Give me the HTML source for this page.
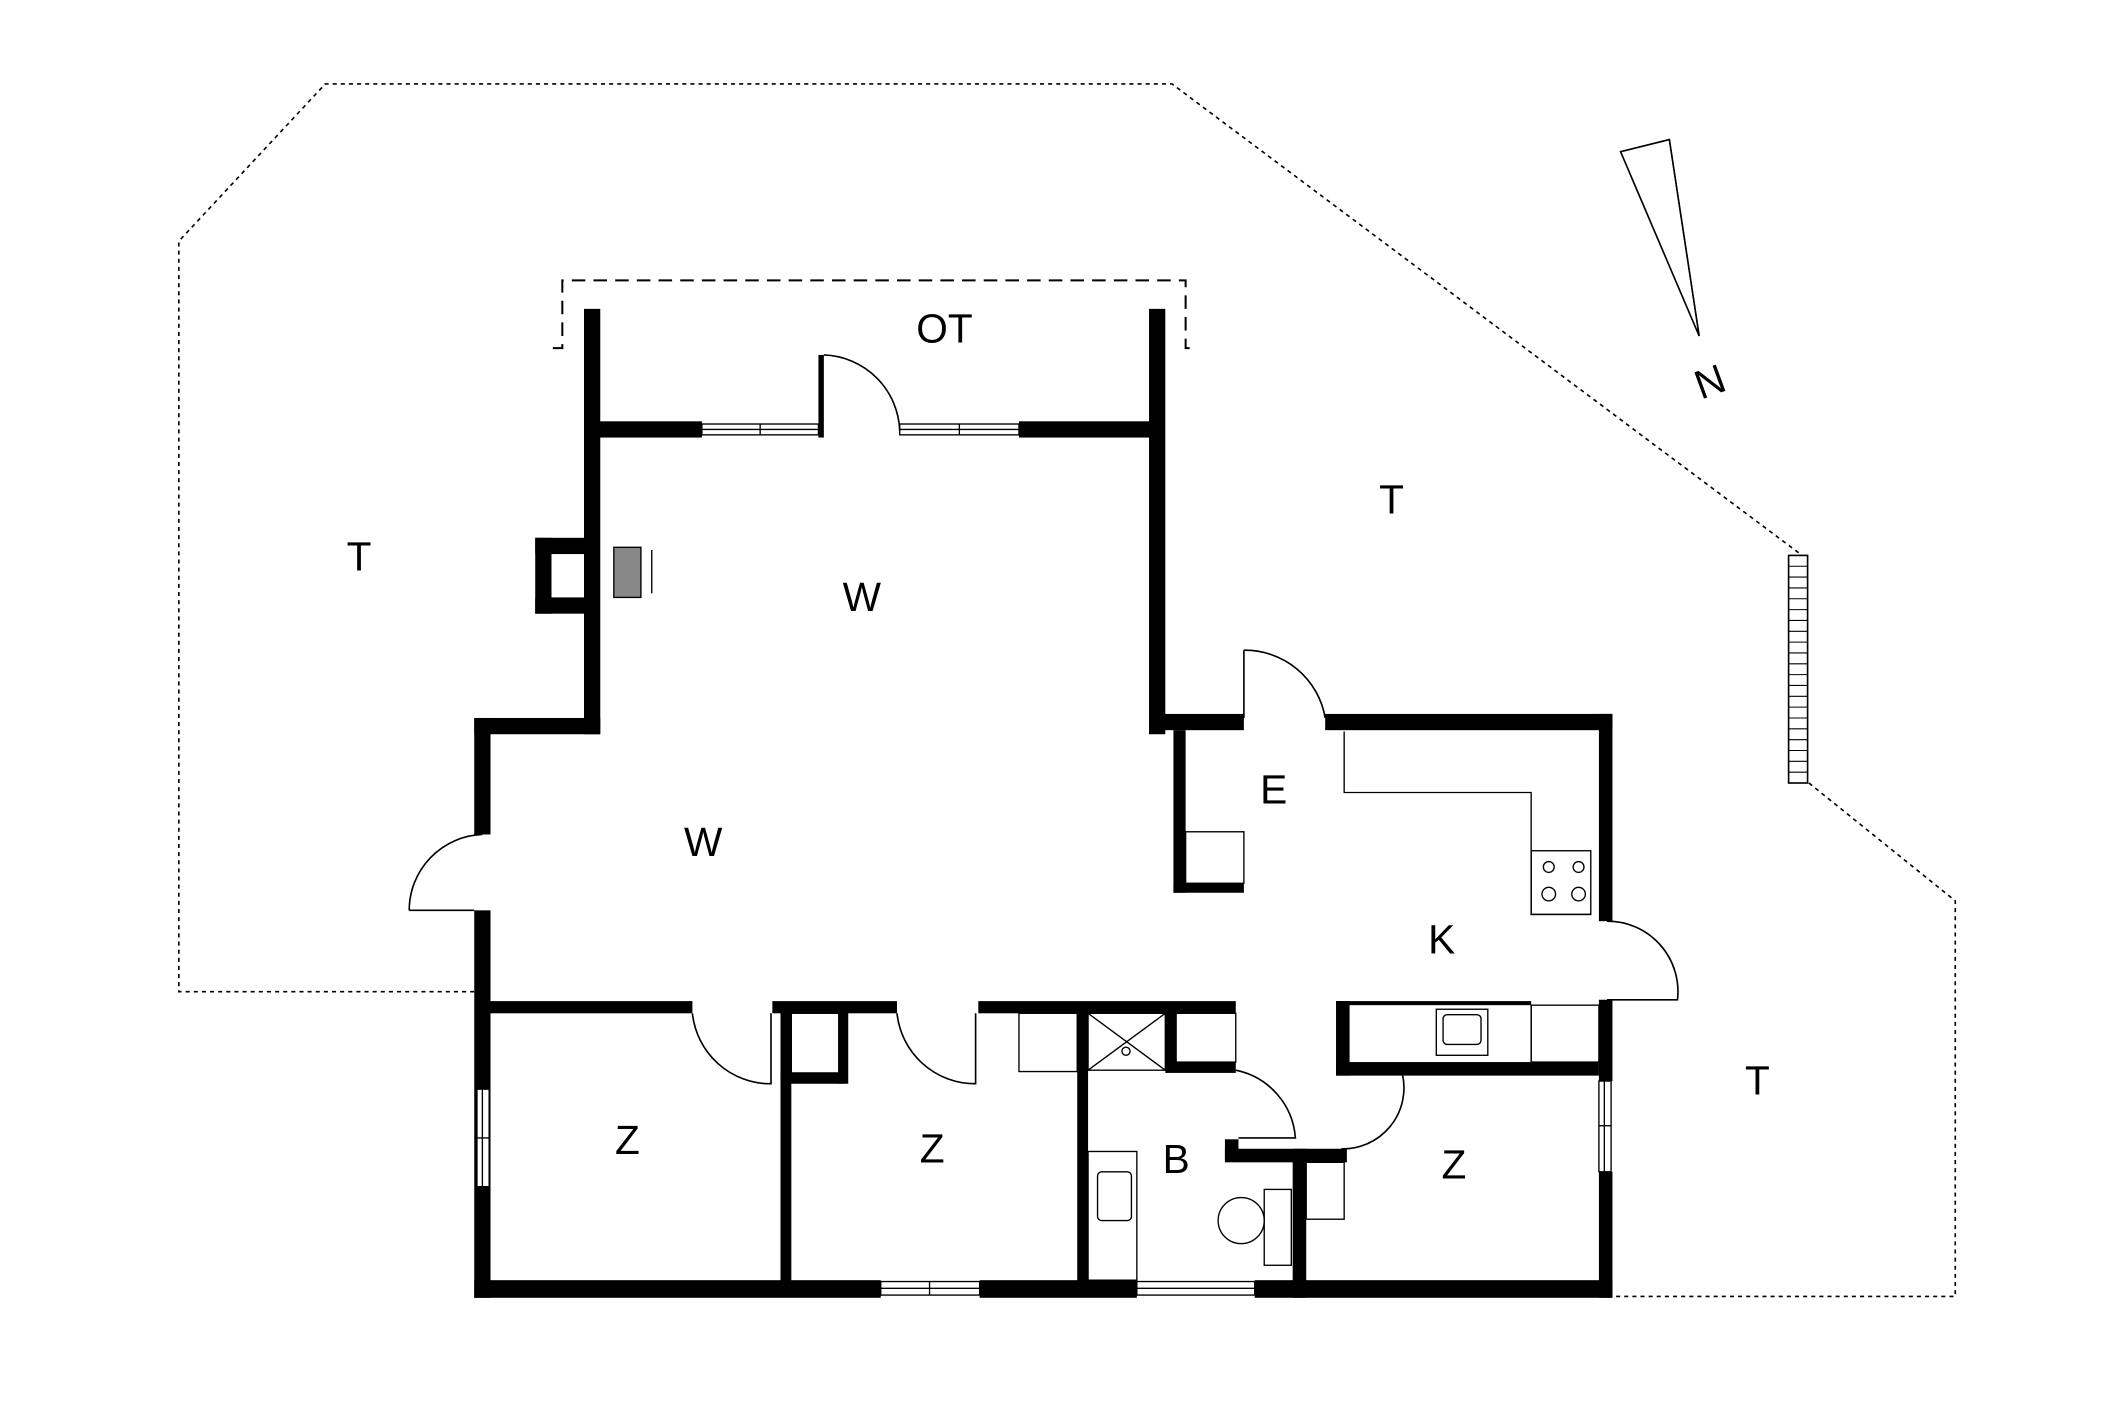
<!DOCTYPE html>
<html><head><meta charset="utf-8"><style>html,body{margin:0;padding:0;background:#fff}svg{display:block}</style></head><body>
<svg width="2126" height="1417" viewBox="0 0 1569 1046" preserveAspectRatio="none" xmlns="http://www.w3.org/2000/svg" font-family="Liberation Sans, sans-serif">
<rect width="1569" height="1046" fill="#fff"/>
<g fill="none" stroke="#000" stroke-width="1.2" stroke-dasharray="3,3">
<polyline points="350,732 132,732 132,178 240,62 865,62 1330,410"/>
<polyline points="1335,578 1443,665 1443,957 1190,957"/>
</g>
<polyline points="408,257 415,257 415,207 875,207 875,257 880,257" fill="none" stroke="#000" stroke-width="1.5" stroke-dasharray="10,6"/>
<rect x="1320" y="410" width="14" height="168" fill="none" stroke="#000" stroke-width="1.2"/>
<g stroke="#000" stroke-width="0.8">
<path d="M1320,418H1334M1320,426H1334M1320,434H1334M1320,442H1334M1320,450H1334M1320,458H1334M1320,466H1334M1320,474H1334M1320,482H1334M1320,490H1334M1320,498H1334M1320,506H1334M1320,514H1334M1320,522H1334M1320,530H1334M1320,538H1334M1320,546H1334M1320,554H1334M1320,562H1334M1320,570H1334"/>
</g>
<polygon points="1196,112 1232,103 1254,248" fill="none" stroke="#000" stroke-width="1.2"/>
<line x1="1232" y1="103" x2="1254" y2="248" stroke="#000" stroke-width="1"/>
<text x="1262" y="292" font-size="30" text-anchor="middle" transform="rotate(-20 1262 282)">N</text>
<g fill="#000">
<rect x="431" y="228" width="12" height="314"/>
<rect x="848" y="228" width="12" height="314"/>
<rect x="437" y="311" width="81" height="12"/>
<rect x="604" y="262" width="4" height="61"/>
<rect x="752" y="311" width="102" height="12"/>
<rect x="395" y="397" width="42" height="12"/>
<rect x="395" y="441" width="42" height="12"/>
<rect x="395" y="397" width="12" height="56"/>
<rect x="350" y="530" width="93" height="12"/>
<rect x="350" y="530" width="12" height="86"/>
<rect x="350" y="672" width="12" height="286"/>
<rect x="350" y="945" width="300" height="13"/>
<rect x="723" y="945" width="116" height="13"/>
<rect x="926" y="945" width="264" height="13"/>
<rect x="1180" y="527" width="10" height="153"/>
<rect x="1180" y="738" width="10" height="60"/>
<rect x="1180" y="865" width="10" height="93"/>
<rect x="978" y="527" width="212" height="12"/>
<rect x="854" y="527" width="64" height="12"/>
<rect x="866" y="539" width="9" height="120"/>
<rect x="866" y="652" width="52" height="7"/>
<rect x="356" y="739" width="155" height="9"/>
<rect x="570" y="739" width="92" height="9"/>
<rect x="722" y="739" width="190" height="9"/>
<rect x="576" y="743" width="8" height="210"/>
<rect x="576" y="792" width="46" height="8"/>
<rect x="619" y="743" width="7" height="57"/>
<rect x="795" y="743" width="8" height="210"/>
<rect x="860" y="743" width="8" height="48"/>
<rect x="860" y="784" width="52" height="8"/>
<rect x="904" y="841" width="10" height="15"/>
<rect x="904" y="848" width="90" height="10"/>
<rect x="954" y="848" width="10" height="110"/>
<rect x="986" y="739" width="10" height="55"/>
<rect x="986" y="784" width="194" height="10"/>
<rect x="986" y="739" width="144" height="3"/>
</g>
<g fill="#fff" stroke="#000" stroke-width="1">
<rect x="518" y="313" width="86" height="8"/><line x1="518" y1="317" x2="604" y2="317"/><line x1="561" y1="313" x2="561" y2="321"/>
<rect x="664" y="313" width="88" height="8"/><line x1="664" y1="317" x2="752" y2="317"/><line x1="708" y1="313" x2="708" y2="321"/>
<rect x="650" y="946" width="73" height="10"/><line x1="650" y1="951" x2="723" y2="951"/><line x1="686" y1="946" x2="686" y2="956"/>
<rect x="839" y="946" width="87" height="10"/><line x1="839" y1="951" x2="926" y2="951"/>
<rect x="352" y="804" width="9" height="72"/><line x1="356" y1="804" x2="356" y2="876"/><line x1="352" y1="840" x2="361" y2="840"/>
<rect x="1180" y="798" width="9" height="67"/><line x1="1184" y1="798" x2="1184" y2="865"/><line x1="1180" y1="831" x2="1189" y2="831"/>
</g>
<g fill="none" stroke="#000" stroke-width="1.2">
<path d="M608,262 A58,58 0 0 1 664,318"/>
<path d="M918,480 V530 M918,480 A60,60 0 0 1 978,530"/>
<path d="M302,672 H350 M302,672 A56,56 0 0 1 356,616"/>
<path d="M1186,680 A52,52 0 0 1 1238,738 H1186"/>
<path d="M511,748 A58,58 0 0 0 569,800 V748"/>
<path d="M662,748 A58,58 0 0 0 720,800 V748"/>
<path d="M912,790 A55,55 0 0 1 956,840 H914"/>
<path d="M990,848 A45,45 0 0 0 1035,793 H996"/>
</g>
<g fill="none" stroke="#000" stroke-width="1">
<rect x="453" y="404" width="20" height="37" fill="#888"/>
<line x1="481" y1="406" x2="481" y2="438"/>
<rect x="875" y="614" width="43" height="38"/>
<polyline points="992,540 992,585 1130,585 1130,675 1174,675"/>
<rect x="1130" y="628" width="44" height="47"/>
<circle cx="1143" cy="640" r="4"/><circle cx="1165" cy="640" r="4"/><circle cx="1143" cy="660" r="5"/><circle cx="1165" cy="660" r="5"/>
<rect x="1130" y="742" width="50" height="42"/><line x1="1130" y1="742" x2="1130" y2="784"/>
<rect x="1060" y="745" width="38" height="34"/><rect x="1065" y="749" width="28" height="22" rx="3"/>
<rect x="584" y="748" width="35" height="44"/>
<rect x="752" y="748" width="43" height="43"/>
<rect x="803" y="748" width="57" height="42"/><line x1="803" y1="748" x2="860" y2="790"/><line x1="860" y1="748" x2="803" y2="790"/><circle cx="831" cy="776" r="3"/>
<rect x="868" y="748" width="44" height="36"/>
<rect x="803" y="850" width="36" height="95"/><rect x="810" y="865" width="25" height="36" rx="3"/>
<rect x="964" y="858" width="28" height="42"/>
<rect x="933" y="878" width="20" height="56"/>
<ellipse cx="916" cy="901" rx="17" ry="17"/>
</g>
<g font-size="30" text-anchor="middle" fill="#000">
<text x="697" y="253">OT</text>
<text x="265" y="421">T</text>
<text x="1027" y="379">T</text>
<text x="1297" y="808">T</text>
<text x="636" y="451">W</text>
<text x="519" y="632">W</text>
<text x="940" y="593">E</text>
<text x="1064" y="704">K</text>
<text x="463" y="852">Z</text>
<text x="688" y="858">Z</text>
<text x="868" y="866">B</text>
<text x="1073" y="870">Z</text>
</g>
</svg>
</body></html>
